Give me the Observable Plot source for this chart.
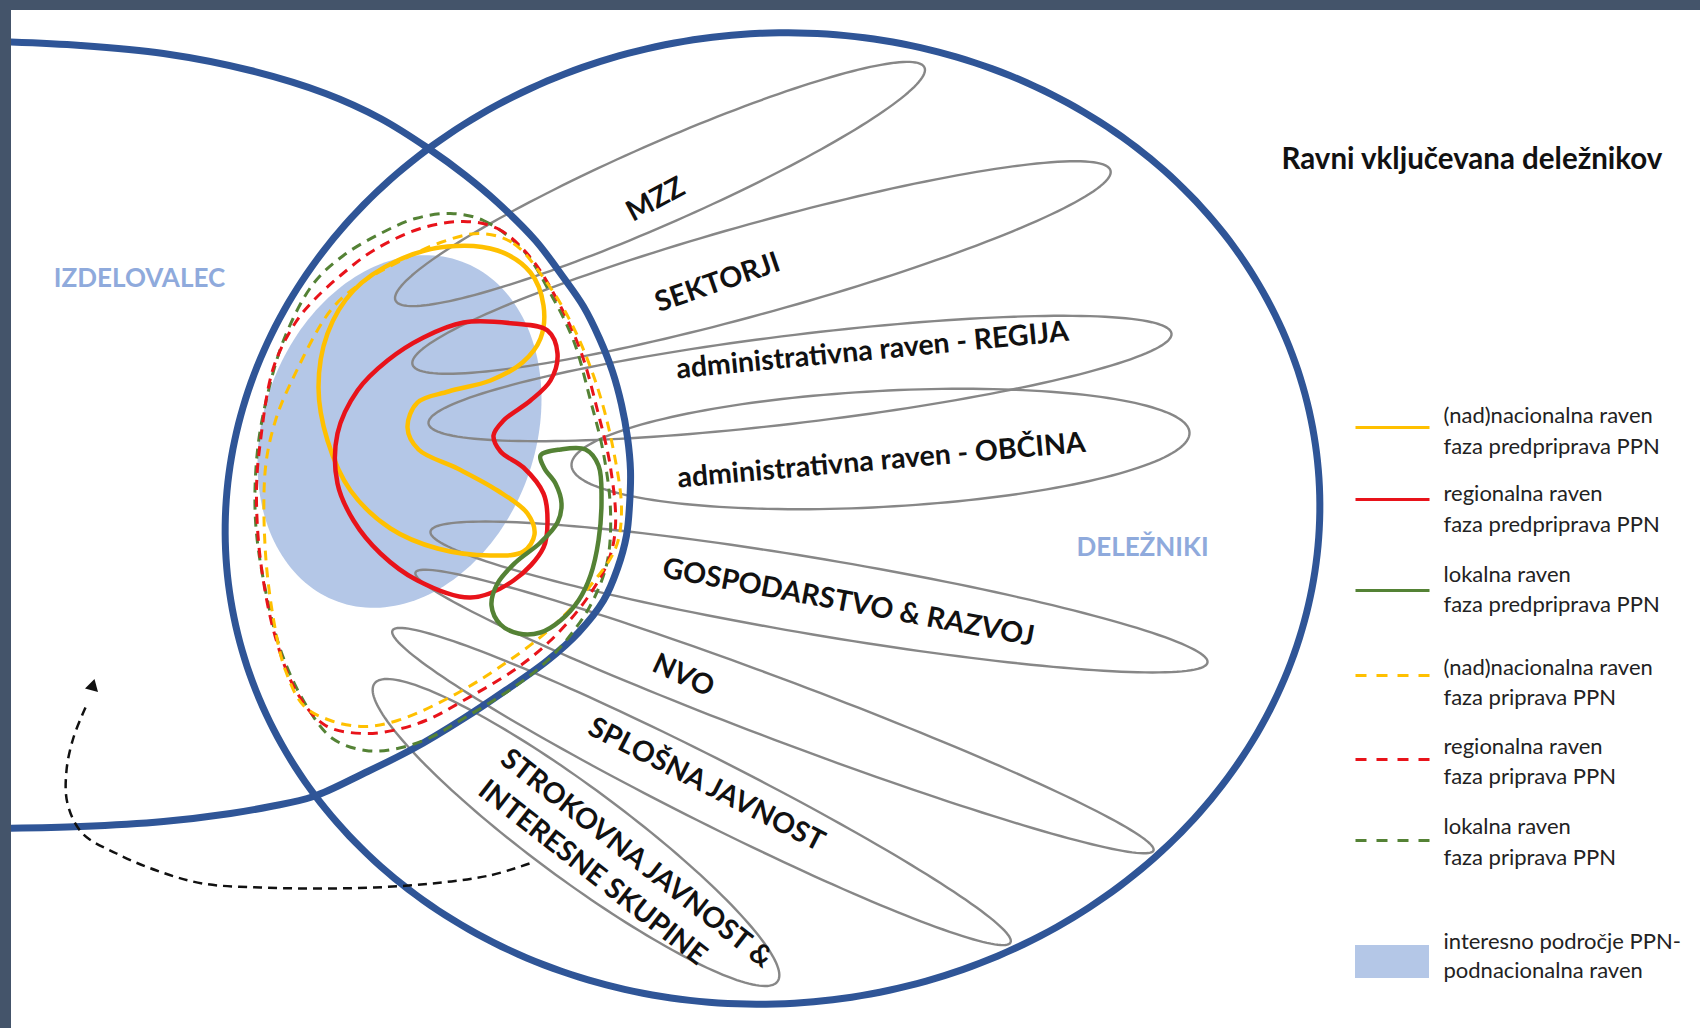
<!DOCTYPE html>
<html><head><meta charset="utf-8">
<script src="https://cdn.jsdelivr.net/npm/d3@7"></script>
<script src="https://cdn.jsdelivr.net/npm/@observablehq/plot@0.6"></script>
<style>
html,body{margin:0;padding:0;background:#fff;}
#frame{position:relative;width:1700px;height:1028px;background:#44546A;overflow:hidden;}
#chart{position:absolute;left:11px;top:10px;}
</style></head><body><div id="frame"><div id="chart"></div></div>
<script>
// ---------- data (pixel units of the 1700x1028 reference) ----------
const izdelovalecOutline = [[-5,41],[80,45],[163,53],[250,70],[325,93],[380,118],[428,148],[465,175],[497,202],[535,240],[563,277],[583,306],[599,338],[612,371],[621,404],[627,437],[630,470],[629,505],[626,535],[617,568],[603,600],[578,632],[547,660],[505,690],[463,718],[413,748],[363,773],[313,796],[270,806],[230,813],[163,821],[80,826],[-5,828]];
// DELEŽNIKI oval: centre, radii, tilt
const deleznikiCenter = [772, 518];
const deleznikiRadii = [548, 485];
const deleznikiAngle = -6;

const focusCenter = [399, 431];
const focusRadii = [181, 136];
const focusAngle = -70;

const groupNames = ["MZZ","SEKTORJI","REGIJA","OBČINA","GOSPODARSTVO & RAZVOJ","NVO","SPLOŠNA JAVNOST","STROKOVNA JAVNOST & INTERESNE SKUPINE"];
const groupInnerTip = [[395,300],[412,364],[428,423],[571,465],[430,531],[415,572],[392,630],[374,683]];
const groupOuterTip = [[924,67],[1110,170],[1171,333],[1189,432],[1207,662],[1153,850],[1010,942],[777,981]];
const groupHalfWidth = [40,45,44,58,38,30,32,46];

const labelLines = ["MZZ","SEKTORJI","administrativna raven - REGIJA","administrativna raven - OBČINA","GOSPODARSTVO & RAZVOJ","NVO","SPLOŠNA JAVNOST","STROKOVNA JAVNOST &","INTERESNE SKUPINE"];
const labelPos = [[655,199],[717,282],[872,350],[881,460],[848,602],[683,675],[706,784],[636,858],[592,872]];
const labelAngle = [-28,-19,-5.5,-5,10.5,25,27,38,38];

const yellowSolid = [[447,246],[497,250],[530,272],[543,305],[540,338],[522,362],[490,380],[448,391],[417,402],[407,427],[418,449],[457,468],[497,490],[527,513],[534,534],[523,551],[490,555],[437,548],[390,528],[350,490],[327,440],[318,387],[327,333],[353,290],[397,260]];
const redSolid = [[463,322],[513,323],[547,330],[557,353],[550,380],[530,400],[503,420],[493,435],[500,451],[523,467],[543,493],[547,520],[543,547],[513,580],[470,597],[417,580],[380,553],[353,520],[337,483],[337,433],[357,390],[387,360],[423,337]];
const greenSolid = [[540,455],[560,449],[585,449],[598,465],[601,500],[598,540],[590,575],[578,600],[560,620],[540,632],[518,633],[500,624],[491,605],[497,583],[515,562],[540,542],[557,522],[561,503],[555,483],[544,468]];
const yellowDashed = [[480,233],[513,243],[547,283],[573,327],[597,387],[613,450],[621,510],[615,548],[590,585],[550,628],[497,668],[447,698],[397,720],[363,726],[330,720],[303,705],[285,670],[275,630],[265,553],[265,467],[275,420],[290,383],[330,310],[360,283],[397,262],[440,242]];
const redDashed = [[463,221],[497,228],[530,257],[557,300],[580,350],[597,410],[610,467],[615,525],[608,560],[585,600],[550,640],[513,670],[463,700],[430,718],[397,729],[363,733],[325,725],[297,693],[275,637],[260,560],[256,490],[260,440],[273,367],[295,322],[313,300],[340,275],[373,250],[420,228]];
const greenDashed = [[450,213],[483,220],[523,250],[550,293],[573,340],[590,400],[603,453],[610,510],[607,560],[594,597],[575,628],[547,660],[513,687],[463,718],[430,737],[397,748],[365,750],[332,738],[307,707],[282,655],[265,590],[255,520],[257,450],[268,390],[285,335],[313,283],[343,255],[380,233],[415,218]];

const arrowPath = [[529,863],[489,875],[432,883],[374,887],[317,888],[260,887],[202,883],[156,870],[116,853],[82,833],[67,803],[66,770],[73,737],[85,707]];
const arrowHead = [[92,686]];

const sideLabels = ["IZDELOVALEC","DELEŽNIKI"];
const sideLabelPos = [[139,278],[1142,547]];

const titleText = ["Ravni vključevana deležnikov"];
const titlePos = [1281,159];

const legendLabelTop = ["(nad)nacionalna raven","regionalna raven","lokalna raven","(nad)nacionalna raven","regionalna raven","lokalna raven","interesno področje PPN-"];
const legendLabelBottom = ["faza predpriprava PPN","faza predpriprava PPN","faza predpriprava PPN","faza priprava PPN","faza priprava PPN","faza priprava PPN","podnacionalna raven"];
const legendTopY = [415,493,574,667,746,826,941];
const legendBottomY = [446,524,604,697,776,857,970];
const legendKeyY = [427,499,590,675,759,840];
const legendKeyDashed = [false,false,false,true,true,true];
const legendSwatchY = [945,978];
const legendKeyX = [1355,1429];
const legendTextX = 1443;

// ---------- styles ----------
const BLUE = "#2F5597", FOCUS = "#B4C7E7", GRAY = "#878787", SIDE = "#8FAADC";
const YEL = "#FFC000", RED = "#E8131A", GRN = "#548235";
const legendKeyColor = [YEL, RED, GRN, YEL, RED, GRN];
const FONT = "Lato, 'Open Sans', sans-serif";

// ---------- helpers ----------
function ellipsePoints(cx, cy, rx, ry, angleDeg, n = 180) {
  const a = angleDeg * Math.PI / 180, c = Math.cos(a), s = Math.sin(a);
  return d3.range(n).map(k => {
    const t = 2 * Math.PI * k / n, ex = rx * Math.cos(t), ey = ry * Math.sin(t);
    return [cx + ex * c - ey * s, cy + ex * s + ey * c];
  });
}
const X = d => d[0], Y = d => d[1];

const focusPts = ellipsePoints(focusCenter[0], focusCenter[1], focusRadii[0], focusRadii[1], focusAngle);
const deleznikiPts = ellipsePoints(deleznikiCenter[0], deleznikiCenter[1], deleznikiRadii[0], deleznikiRadii[1], deleznikiAngle, 360);
const groupPts = groupNames.flatMap((name, i) => {
  const [x1, y1] = groupInnerTip[i], [x2, y2] = groupOuterTip[i];
  const cx = (x1 + x2) / 2, cy = (y1 + y2) / 2;
  const a = Math.hypot(x2 - x1, y2 - y1) / 2;
  const ang = Math.atan2(y2 - y1, x2 - x1) * 180 / Math.PI;
  return ellipsePoints(cx, cy, a, groupHalfWidth[i], ang).map(p => ({x: p[0], y: p[1], g: name}));
});

const W = 1689, H = 1018;
const marks = [
  Plot.line(focusPts, {x: X, y: Y, curve: "linear-closed", fill: FOCUS, stroke: "none"}),
  Plot.line(groupPts, {x: "x", y: "y", z: "g", curve: "linear-closed", stroke: GRAY, strokeWidth: 2.4}),
  Plot.line(izdelovalecOutline, {x: X, y: Y, curve: "catmull-rom", stroke: BLUE, strokeWidth: 7}),
  Plot.line(deleznikiPts, {x: X, y: Y, curve: "linear-closed", stroke: BLUE, strokeWidth: 7}),
  Plot.line(greenDashed, {x: X, y: Y, curve: "catmull-rom-closed", stroke: GRN, strokeWidth: 3, strokeDasharray: "10,7", strokeLinecap: "butt"}),
  Plot.line(redDashed, {x: X, y: Y, curve: "catmull-rom-closed", stroke: RED, strokeWidth: 3, strokeDasharray: "10,7", strokeLinecap: "butt"}),
  Plot.line(yellowDashed, {x: X, y: Y, curve: "catmull-rom-closed", stroke: YEL, strokeWidth: 3, strokeDasharray: "10,7", strokeLinecap: "butt"}),
  Plot.line(yellowSolid, {x: X, y: Y, curve: "catmull-rom-closed", stroke: YEL, strokeWidth: 4.5}),
  Plot.line(redSolid, {x: X, y: Y, curve: "catmull-rom-closed", stroke: RED, strokeWidth: 4.5}),
  Plot.line(greenSolid, {x: X, y: Y, curve: "catmull-rom-closed", stroke: GRN, strokeWidth: 4.5}),
  Plot.line(arrowPath, {x: X, y: Y, curve: "catmull-rom", stroke: "#111", strokeWidth: 2.5, strokeDasharray: "9,6", strokeLinecap: "butt"}),
  Plot.dot(arrowHead, {x: X, y: Y, symbol: "triangle", r: 5, fill: "#111", stroke: "none", rotate: 15}),
  Plot.text(d3.range(labelLines.length), {
    x: i => labelPos[i][0], y: i => labelPos[i][1], text: i => labelLines[i], rotate: i => labelAngle[i],
    fontSize: 28.5, fontWeight: "bold", fontFamily: FONT, fill: "#111", textAnchor: "middle", lineAnchor: "middle"
  }),
  Plot.text(d3.range(sideLabels.length), {
    x: i => sideLabelPos[i][0], y: i => sideLabelPos[i][1], text: i => sideLabels[i],
    fontSize: 26, fontWeight: "bold", fontFamily: FONT, fill: SIDE, textAnchor: "middle", lineAnchor: "middle"
  }),
  Plot.text(titleText, {x: () => titlePos[0], y: () => titlePos[1], text: d => d,
    fontSize: 29.5, fontWeight: "bold", fontFamily: FONT, fill: "#111", textAnchor: "start", lineAnchor: "middle"}),
  Plot.text(d3.range(legendLabelTop.length), {x: () => legendTextX, y: i => legendTopY[i], text: i => legendLabelTop[i],
    fontSize: 22, fontFamily: FONT, fill: "#222", textAnchor: "start", lineAnchor: "middle"}),
  Plot.text(d3.range(legendLabelBottom.length), {x: () => legendTextX, y: i => legendBottomY[i], text: i => legendLabelBottom[i],
    fontSize: 22, fontFamily: FONT, fill: "#222", textAnchor: "start", lineAnchor: "middle"}),
  Plot.rect([0], {x1: () => legendKeyX[0], x2: () => legendKeyX[1], y1: () => legendSwatchY[0], y2: () => legendSwatchY[1], fill: FOCUS})
];
legendKeyY.forEach((ky, i) => {
  marks.push(Plot.link([i], {
    x1: () => legendKeyX[0], x2: () => legendKeyX[1], y1: () => ky, y2: () => ky,
    stroke: legendKeyColor[i], strokeWidth: 3.2,
    strokeDasharray: legendKeyDashed[i] ? "11,10" : null, strokeLinecap: "butt"
  }));
});

const chart = Plot.plot({
  width: W, height: H, margin: 0,
  x: {domain: [11, 1700], range: [0, W], axis: null},
  y: {domain: [10, 1028], range: [0, H], axis: null},
  style: {background: "white", overflow: "hidden"},
  marks
});
document.getElementById("chart").appendChild(chart);
</script></body></html>
